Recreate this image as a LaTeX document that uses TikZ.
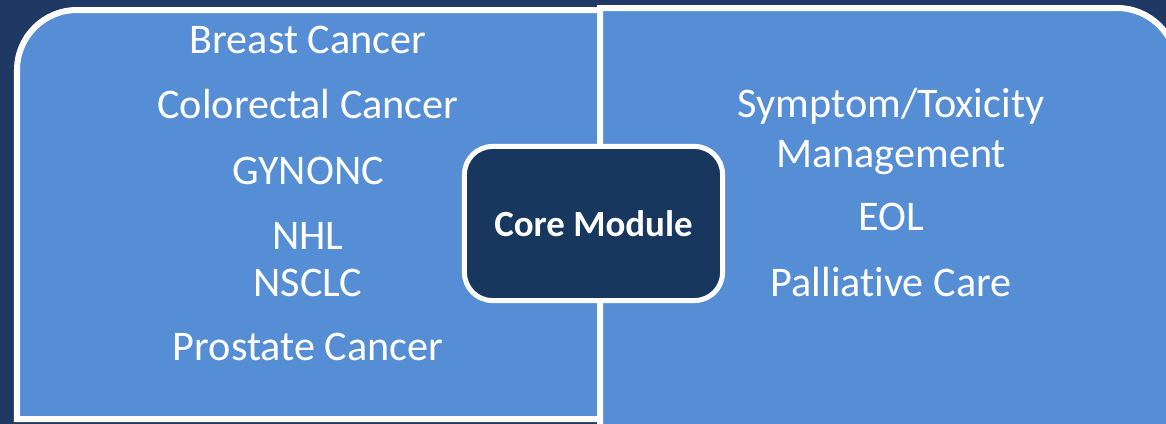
\documentclass[tikz,border=0pt]{standalone}
\usepackage{fontspec}
\setmainfont{Carlito}[Ligatures={NoCommon}]
\definecolor{sfondo}{RGB}{31,56,100}
\definecolor{pannello}{RGB}{85,142,213}
\definecolor{nucleo}{RGB}{23,55,94}

\begin{document}
\begin{tikzpicture}[x = 0.01cm, y = -0.01cm,
  voce/.style = {text=white, anchor=base, inner sep=0pt, font=\fontsize{12}{14}\selectfont},
  modulo/.style = {draw=white, line width=0.05cm, fill=nucleo, text=white, rounded corners=0.28cm,
    minimum width=2.58cm, minimum height=1.54cm, font=\fontsize{10.5}{12}\selectfont\bfseries}]
  % Sfondo e riquadro
  \useasboundingbox (0,0) rectangle (1166,424);
  \clip (0,0) rectangle (1166,424);
  \fill[sfondo] (0,0) rectangle (1166,424);

  % Pannello sinistro (tumori)
  \draw[line width=0.06cm, white, fill=pannello] (17,419) -- (17,70)
    arc[start angle=180, end angle=270, radius=60] -- (600,10) -- (600,419) -- cycle;

  % Pannello destro (cure)
  \draw[line width=0.06cm, white, fill=pannello] (600,427) -- (600,8) -- (1117,8)
    arc[start angle=270, end angle=360, radius=60] -- (1177,427) -- cycle;

  % Modulo centrale
  \node[modulo] (core) at (593.5,223.5) {Core Module};

  % Voci a sinistra
  \node[voce] (breast) at (308,53) {Breast Cancer};
  \node[voce] (colorectal) at (308,118) {Colorectal Cancer};
  \node[voce] (gynonc) at (308,184) {GYNONC};
  \node[voce] (nhl) at (308,249) {NHL};
  \node[voce] (nsclc) at (308,296) {NSCLC};
  \node[voce] (prostate) at (308,360) {Prostate Cancer};

  % Voci a destra
  \node[voce] (symptom) at (891,117) {Symptom/Toxicity};
  \node[voce] (management) at (891,167) {Management};
  \node[voce] (eol) at (891,230) {EOL};
  \node[voce] (palliative) at (891,296) {Palliative Care};
\end{tikzpicture}
\end{document}
